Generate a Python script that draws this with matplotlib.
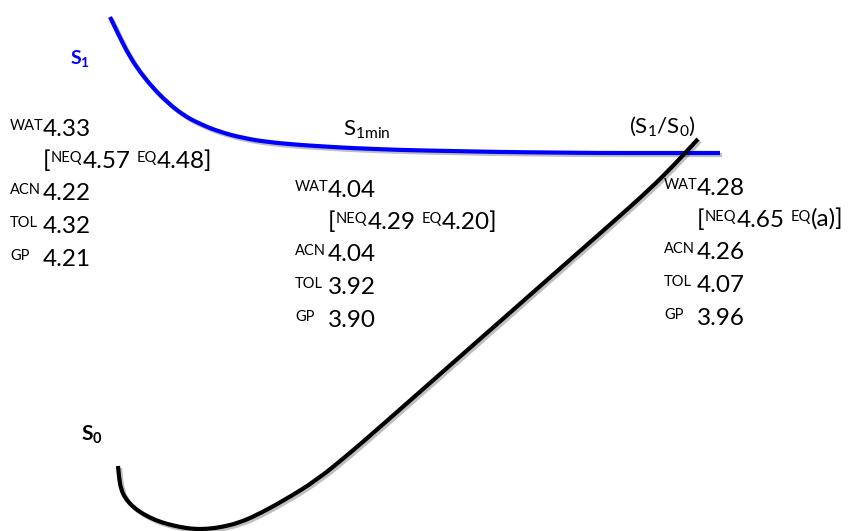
import matplotlib.pyplot as plt
import matplotlib.patheffects as pe
from matplotlib.path import Path
from matplotlib.patches import PathPatch

plt.rcParams['font.family'] = ['Lato', 'DejaVu Sans']
plt.rcParams['mathtext.fontset'] = 'custom'
plt.rcParams['mathtext.rm'] = 'Lato'
plt.rcParams['mathtext.bf'] = 'Lato:bold'

# curves, pixel coordinates (y downwards)
s1_x = [110, 120, 130, 140, 153, 167, 183, 200, 220, 243, 267, 300, 333, 350, 400, 450, 500, 550, 600, 650, 720]
s1_y = [17, 38, 57, 72, 88, 102, 115, 124, 132, 138, 142, 145, 147, 148, 150, 151, 152, 152.5, 153, 153, 153]

s0_x = [118, 119, 121, 125, 133, 143, 155, 167, 180, 193, 207, 222, 238, 255, 283, 317, 350, 380, 447, 513, 580, 613, 650, 675, 698]
s0_y = [466, 478, 489, 498, 507, 514, 520, 524, 527, 529, 529, 527, 523, 516, 501, 480, 453, 427, 368, 310, 251, 222, 189, 164, 139]

# energy values at the three points
solvents = ['WAT', 'ACN', 'TOL', 'GP']
fc_vals = ['4.33', '4.22', '4.32', '4.21']
fc_bracket = ['4.57', '4.48]']
min_vals = ['4.04', '4.04', '3.92', '3.90']
min_bracket = ['4.29', '4.20]']
ci_vals = ['4.28', '4.26', '4.07', '3.96']
ci_bracket = ['4.65', '(a)]']

fig = plt.figure(figsize=(8.56, 5.31), dpi=100)
ax = fig.add_axes([0, 0, 1, 1])
ax.set_xlim(0, 856)
ax.set_ylim(531, 0)
ax.axis('off')


def smooth(xs, ys):
    # quadratic pieces through the midpoints, so the traced line has no kinks
    verts = [(xs[0], ys[0])]
    codes = [Path.MOVETO]
    for i in range(1, len(xs) - 1):
        verts += [(xs[i], ys[i]), ((xs[i] + xs[i + 1]) / 2, (ys[i] + ys[i + 1]) / 2)]
        codes += [Path.CURVE3, Path.CURVE3]
    verts.append((xs[-1], ys[-1]))
    codes.append(Path.LINETO)
    return Path(verts, codes)


shadow = [pe.SimpleLineShadow(offset=(1.5, -1.5), alpha=0.25), pe.Normal()]
ax.add_patch(PathPatch(smooth(s1_x, s1_y), fill=False, edgecolor='#0000ff', lw=3, capstyle='butt',
                       path_effects=shadow))
ax.add_patch(PathPatch(smooth(s0_x, s0_y), fill=False, edgecolor='black', lw=3, capstyle='butt',
                       path_effects=shadow))

ax.text(70, 65, r'S$_{\mathbf{1}}$', color='#0000ff', fontsize=14, fontweight='bold')
ax.text(81, 440, r'S$_{\mathbf{0}}$', color='black', fontsize=15, fontweight='bold')
ax.text(343, 135, r'S$_{\mathregular{1min}}$', fontsize=16)
ax.text(629, 133, r'(S$_{\mathregular{1}}$/S$_{\mathregular{0}}$)', fontsize=16)

rows = [0, 64, 97, 130]
big = 17.5
small = 10.5


def block(x, y, vals, br):
    for lab, v, dy in zip(solvents, vals, rows):
        ax.text(x, y + dy - 6, lab, fontsize=small, va='baseline')
        ax.text(x + 33, y + dy, v, fontsize=big, va='baseline')
    # bracket line: [ NEQ value  EQ value ]
    bx = x + 33
    by = y + 32
    ax.text(bx, by, '[', fontsize=big, va='baseline')
    ax.text(bx + 8, by - 6, 'NEQ', fontsize=small, va='baseline')
    ax.text(bx + 40, by, br[0], fontsize=big, va='baseline')
    ax.text(bx + 94, by - 6, 'EQ', fontsize=small, va='baseline')
    ax.text(bx + 114, by, br[1], fontsize=big, va='baseline')


block(10, 136, fc_vals, fc_bracket)
block(295, 197, min_vals, min_bracket)
block(664, 195, ci_vals, ci_bracket)

fig.savefig('out.png', dpi=100)
